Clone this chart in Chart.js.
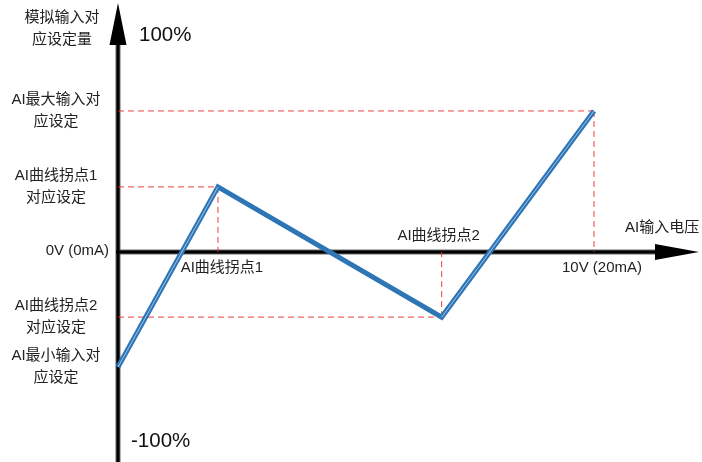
<!DOCTYPE html>
<html>
<head>
<meta charset="utf-8">
<script src="https://cdn.jsdelivr.net/npm/chart.js@4"></script>
<style>
  html, body { margin: 0; padding: 0; background: #fff; }
  #wrap { width: 702px; height: 462px; }
</style>
</head>
<body>
<div id="wrap"><canvas id="chartAI" width="702" height="462"></canvas></div>
<script>
// --- données lues sur le schéma ---
// entrée AI en volts (0 .. 10V) et consigne correspondante en %
const inputVolts  = [0, 2.1, 6.8, 10];
const settingPct  = [-53, 30, -30, 65];

// étiquettes de l'axe vertical (texte, valeur associée)
const yLabels = [
    ['AI最大输入对', '应设定'],
    ['AI曲线拐点1', '对应设定'],
    ['AI曲线拐点2', '对应设定'],
    ['AI最小输入对', '应设定']
];
const yLabelValues = [65, 30, -30, -53];
const yTitle = ['模拟输入对', '应设定量'];
const yMaxText = '100%';
const yMinText = '-100%';

// étiquettes de l'axe horizontal
const xZeroText  = '0V (0mA)';
const xMaxText   = '10V (20mA)';
const xTitle     = 'AI输入电压';
const knee1Text  = 'AI曲线拐点1';
const knee2Text  = 'AI曲线拐点2';

// lignes de repère pointillées (construites à partir des points)
const guides = [];
for (let i = 1; i < inputVolts.length; i++) {
    guides.push([{ x: 0, y: settingPct[i] }, { x: inputVolts[i], y: settingPct[i] }]);
    guides.push([{ x: inputVolts[i], y: settingPct[i] }, { x: inputVolts[i], y: 0 }]);
}

const curve = inputVolts.map((v, i) => ({ x: v, y: settingPct[i] }));

// order : plus petit = dessiné au-dessus
const guideSets = guides.map(g => ({
    data: g,
    borderColor: 'rgba(235, 40, 40, 0.9)',
    borderWidth: 1,
    borderDash: [6, 4],
    pointRadius: 0,
    fill: false,
    order: 3
}));

// axes + flèches + textes dessinés à la main
const diagramPlugin = {
    id: 'diagram',
    beforeDatasetsDraw(chart) {
        const ctx = chart.ctx;
        const xs = chart.scales.x, ys = chart.scales.y;
        const x0 = xs.getPixelForValue(0);
        const y0 = ys.getPixelForValue(0);
        ctx.save();
        ctx.lineCap = 'butt';
        ctx.strokeStyle = '#666';
        ctx.lineWidth = 5;
        ctx.beginPath(); ctx.moveTo(x0, 462); ctx.lineTo(x0, 44); ctx.stroke();
        ctx.beginPath(); ctx.moveTo(x0, y0); ctx.lineTo(658, y0); ctx.stroke();
        ctx.strokeStyle = '#000';
        ctx.lineWidth = 3;
        ctx.beginPath(); ctx.moveTo(x0, 462); ctx.lineTo(x0, 44); ctx.stroke();
        ctx.beginPath(); ctx.moveTo(x0 - 2, y0); ctx.lineTo(658, y0); ctx.stroke();
        // flèches
        ctx.fillStyle = '#000';
        ctx.beginPath();
        ctx.moveTo(x0, 3); ctx.lineTo(x0 + 8.5, 45); ctx.lineTo(x0 - 8.5, 45);
        ctx.closePath(); ctx.fill();
        ctx.beginPath();
        ctx.moveTo(699, y0); ctx.lineTo(655, y0 - 8); ctx.lineTo(655, y0 + 8);
        ctx.closePath(); ctx.fill();
        ctx.restore();
    },
    afterDatasetsDraw(chart) {
        const ctx = chart.ctx;
        const xs = chart.scales.x, ys = chart.scales.y;
        const y0 = ys.getPixelForValue(0);
        ctx.save();
        ctx.textBaseline = 'middle';
        ctx.font = '15px "Liberation Sans", Arial, "Noto Sans CJK SC", sans-serif';
        ctx.fillStyle = '#222';

        // titre axe Y
        ctx.textAlign = 'center';
        ctx.fillText(yTitle[0], 62, 18);
        ctx.fillText(yTitle[1], 62, 40);
        // étiquettes axe Y
        yLabels.forEach((lines, i) => {
            const cy = ys.getPixelForValue(yLabelValues[i]);
            ctx.fillText(lines[0], 56, cy - 11);
            ctx.fillText(lines[1], 56, cy + 11);
        });
        ctx.textAlign = 'right';
        ctx.fillText(xZeroText, 109, y0 - 1);

        // axe X
        ctx.textAlign = 'center';
        ctx.fillText(knee1Text, xs.getPixelForValue(inputVolts[1]) + 4, y0 + 16);
        ctx.fillText(knee2Text, xs.getPixelForValue(inputVolts[2]) - 3, y0 - 16);
        ctx.fillText(xMaxText, xs.getPixelForValue(10) + 8, y0 + 16);
        ctx.textAlign = 'left';
        ctx.fillText(xTitle, 625, y0 - 24);

        // 100% / -100%
        ctx.font = '20.5px "Liberation Sans", Arial, sans-serif';
        ctx.fillStyle = '#111';
        ctx.fillText(yMaxText, 139, 35);
        ctx.fillText(yMinText, 131, 441);
        ctx.restore();
    }
};

new Chart(document.getElementById('chartAI'), {
    type: 'line',
    data: {
        datasets: [
            ...guideSets,
            {
                // trait extérieur bleu
                data: curve,
                borderColor: '#2E75B6',
                borderWidth: 5,
                pointRadius: 0,
                tension: 0,
                fill: false,
                order: 2
            },
            {
                // filet clair intérieur (visible seulement sur les montées)
                data: curve,
                borderColor: '#A9CCEC',
                borderWidth: 0.9,
                pointRadius: 0,
                tension: 0,
                fill: false,
                order: 1,
                segment: {
                    borderColor: c => c.p1.parsed.y < c.p0.parsed.y ? 'rgba(0,0,0,0)' : '#A9CCEC'
                }
            }
        ]
    },
    options: {
        responsive: false,
        animation: false,
        devicePixelRatio: 1,
        layout: { padding: 0 },
        plugins: { legend: { display: false }, tooltip: { enabled: false } },
        scales: {
            x: { type: 'linear', display: false, min: -2.479, max: 12.269 },
            y: { type: 'linear', display: false, min: -96.77, max: 116.13 }
        }
    },
    plugins: [diagramPlugin]
});
</script>
</body>
</html>
